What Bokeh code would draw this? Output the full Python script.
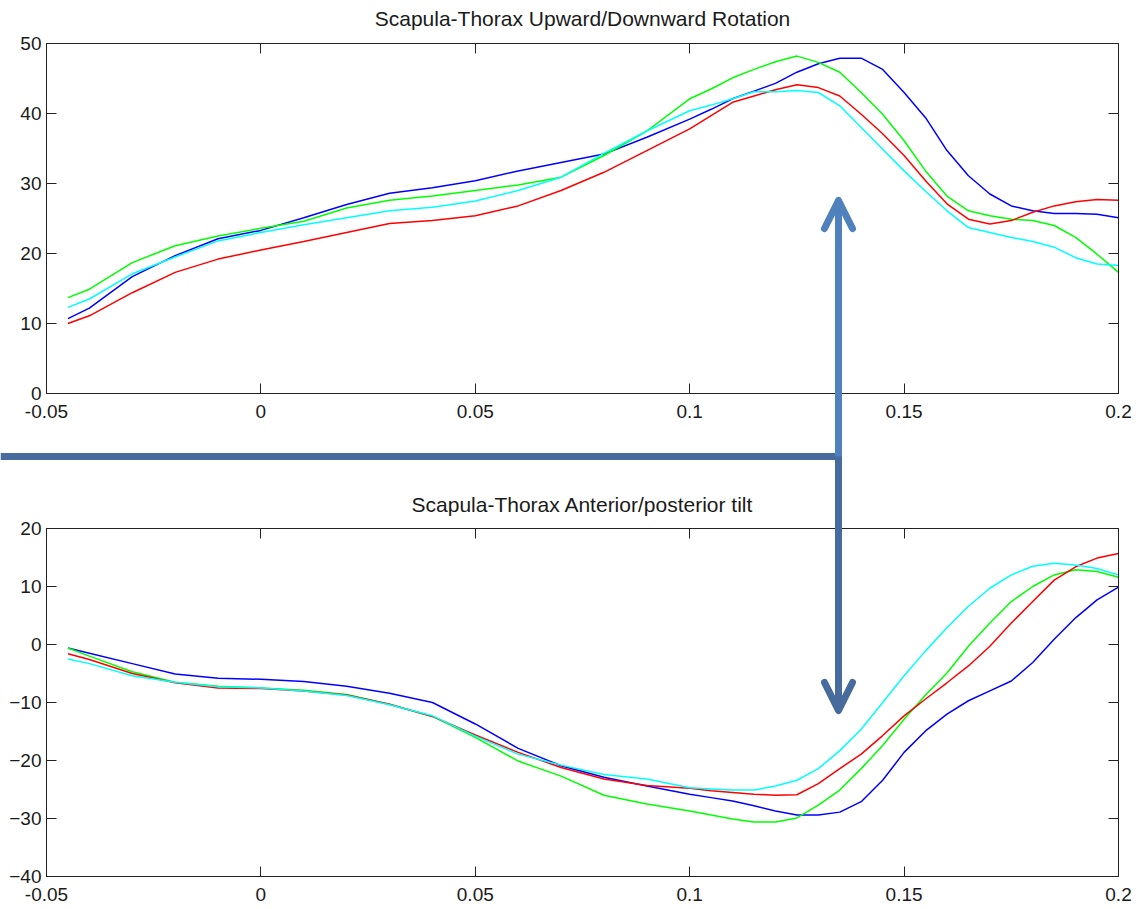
from bokeh.plotting import figure
from bokeh.layouts import column
from bokeh.models import (Range1d, FixedTicker, LinearAxis, CustomJSTickFormatter, Arrow,
                          OpenHead, GridBox)
from bokeh.embed import file_html
from bokeh.resources import INLINE

# ---------------- data ----------------
time = [-0.045, -0.04, -0.03, -0.02, -0.01, 0.0, 0.01, 0.02, 0.03, 0.04, 0.05, 0.06,
        0.07, 0.08, 0.09, 0.1, 0.105, 0.11, 0.115, 0.12, 0.125, 0.13, 0.135, 0.14,
        0.145, 0.15, 0.155, 0.16, 0.165, 0.17, 0.175, 0.18, 0.185, 0.19, 0.195, 0.2]

# Upward/Downward rotation
rot_blue = [10.7, 12.2, 16.7, 19.7, 22.1, 23.3, 25.1, 27.0, 28.6, 29.4, 30.4, 31.8,
            33.0, 34.2, 36.6, 39.2, 40.6, 42.1, 43.2, 44.3, 45.9, 47.1, 47.9, 47.9,
            46.3, 43.0, 39.4, 34.7, 31.1, 28.5, 26.8, 26.1, 25.7, 25.7, 25.6, 25.1]
rot_green = [13.7, 14.9, 18.7, 21.1, 22.5, 23.6, 24.6, 26.5, 27.6, 28.2, 29.0, 29.8,
             30.9, 34.0, 37.5, 42.1, 43.5, 45.1, 46.3, 47.4, 48.2, 47.3, 45.9, 43.0,
             39.9, 36.1, 31.8, 28.2, 26.1, 25.4, 24.9, 24.7, 24.0, 22.3, 19.9, 17.3]
rot_cyan = [12.3, 13.5, 17.1, 19.5, 21.8, 23.0, 24.1, 25.1, 26.1, 26.6, 27.5, 29.0,
            30.9, 34.3, 37.5, 40.4, 41.2, 42.1, 43.1, 43.1, 43.3, 43.0, 41.1, 38.0,
            34.9, 31.8, 28.9, 26.1, 23.7, 23.0, 22.3, 21.7, 20.9, 19.4, 18.5, 18.3]
rot_red = [10.0, 11.1, 14.4, 17.3, 19.2, 20.5, 21.7, 23.0, 24.3, 24.7, 25.4, 26.8,
           29.0, 31.6, 34.7, 37.8, 39.7, 41.6, 42.5, 43.4, 44.1, 43.7, 42.5, 39.9,
           37.1, 34.0, 30.4, 27.1, 24.9, 24.2, 24.7, 25.9, 26.8, 27.4, 27.7, 27.6]

# Anterior/posterior tilt
tilt_blue = [-0.6, -1.5, -3.3, -5.1, -5.8, -6.0, -6.4, -7.2, -8.4, -10.0, -13.7, -17.9,
             -20.9, -22.9, -24.4, -25.8, -26.4, -27.0, -27.8, -28.7, -29.4, -29.4, -28.9, -27.1,
             -23.4, -18.6, -14.9, -12.0, -9.7, -8.0, -6.3, -3.1, 0.9, 4.6, 7.7, 9.9]
tilt_green = [-0.6, -2.0, -4.7, -6.5, -7.2, -7.5, -7.9, -8.6, -10.3, -12.4, -16.0, -20.1,
              -22.7, -26.0, -27.5, -28.7, -29.4, -30.1, -30.6, -30.6, -29.9, -27.7, -25.1, -21.4,
              -17.4, -12.9, -8.7, -4.9, -0.3, 3.7, 7.4, 10.0, 12.0, 12.9, 12.6, 11.6]
tilt_red = [-1.6, -2.6, -5.0, -6.6, -7.5, -7.6, -8.0, -8.7, -10.3, -12.4, -15.6, -18.6,
            -21.2, -23.2, -24.3, -24.8, -25.2, -25.5, -25.8, -26.0, -25.9, -24.0, -21.4, -18.9,
            -15.7, -12.3, -9.4, -6.6, -3.7, -0.3, 3.7, 7.4, 11.1, 13.4, 14.9, 15.7]
tilt_cyan = [-2.5, -3.3, -5.4, -6.5, -7.3, -7.5, -8.0, -8.8, -10.4, -12.3, -15.8, -18.9,
             -20.8, -22.4, -23.2, -24.7, -24.9, -25.1, -25.1, -24.4, -23.4, -21.4, -18.3, -14.6,
             -10.0, -5.4, -1.1, 2.9, 6.6, 9.7, 12.0, 13.5, 14.0, 13.7, 13.1, 12.0]

x_ticks = [-0.05, 0, 0.05, 0.1, 0.15, 0.2]
x_tick_labels = ["-0.05", "0", "0.05", "0.1", "0.15", "0.2"]
rot_y_ticks = [0, 10, 20, 30, 40, 50]
tilt_y_ticks = [-40, -30, -20, -10, 0, 10, 20]

title_rot = "Scapula-Thorax Upward/Downward Rotation"
title_tilt = "Scapula-Thorax Anterior/posterior tilt"

series_colors = ["#0000FF", "#00FF00", "#FF0000", "#00FFFF"]

AX = "#222222"
TXT = "#1a1a1a"
FONT = "Liberation Sans"
UPPER_ARROW = "#4F81BD"
LOWER_ARROW = "#476B9D"

PAGE_W, TOP_H, BOT_H = 1145, 470, 439


def style_axis(ax, ticks, show_labels=True, overrides=None, standoff=5):
    ax.ticker = FixedTicker(ticks=ticks)
    ax.major_tick_in = 10
    ax.major_tick_out = 0
    ax.minor_tick_line_color = None
    ax.axis_line_color = AX
    ax.major_tick_line_color = AX
    ax.major_label_text_font = FONT
    ax.major_label_text_font_size = "19px"
    ax.major_label_text_color = TXT
    ax.major_label_standoff = standoff
    if overrides:
        ax.major_label_overrides = overrides
    if not show_labels:
        ax.formatter = CustomJSTickFormatter(code="return '';")


def make_fig(title, ylo, yhi, yticks, height, top, bottom, title_standoff):
    p = figure(width=PAGE_W, height=height, title=title,
               x_range=Range1d(-0.05, 0.2), y_range=Range1d(ylo, yhi),
               output_backend="svg", toolbar_location=None,
               min_border_left=46, min_border_right=27,
               min_border_top=top, min_border_bottom=bottom)
    p.title.align = "center"
    p.title.text_font = FONT
    p.title.text_font_size = "21px"
    p.title.text_font_style = "normal"
    p.title.text_color = TXT
    p.title.standoff = title_standoff
    p.grid.visible = False
    p.outline_line_color = AX
    p.outline_line_width = 1
    p.background_fill_color = "white"
    p.border_fill_color = "white"
    style_axis(p.xaxis[0], x_ticks, overrides=dict(zip(x_ticks, x_tick_labels)), standoff=11)
    style_axis(p.yaxis[0], yticks)
    top_ax = LinearAxis()
    style_axis(top_ax, x_ticks, show_labels=False, standoff=0)
    p.add_layout(top_ax, "above")
    # invisible spacer between the top ticks and the title
    spacer = LinearAxis(ticker=FixedTicker(ticks=x_ticks), major_tick_out=12, major_tick_in=0,
                        major_tick_line_color=None, minor_tick_line_color=None,
                        minor_tick_out=0, minor_tick_in=0,
                        axis_line_color=None, major_label_standoff=0,
                        formatter=CustomJSTickFormatter(code="return '';"))
    p.add_layout(spacer, "above")
    right_ax = LinearAxis()
    style_axis(right_ax, yticks, show_labels=False, standoff=0)
    p.add_layout(right_ax, "right")
    return p


# ---------------- top figure ----------------
p1 = make_fig(title_rot, 0, 50, rot_y_ticks, TOP_H, 43, 77, 4)
for ys, c in zip([rot_blue, rot_green, rot_red, rot_cyan], series_colors):
    p1.line(time, ys, line_color=c, line_width=1.5)

# ---------------- bottom figure ----------------
p2 = make_fig(title_tilt, -40, 20, tilt_y_ticks, BOT_H, 58, 33, 2)
for ys, c in zip([tilt_blue, tilt_green, tilt_red, tilt_cyan], series_colors):
    p2.line(time, ys, line_color=c, line_width=1.5)

# ---------------- transparent overlay for the callout arrows (page pixels, y down) ----------------
ov = figure(width=PAGE_W, height=TOP_H + BOT_H,
            x_range=Range1d(0, PAGE_W), y_range=Range1d(TOP_H + BOT_H, 0),
            x_axis_type=None, y_axis_type=None, output_backend="svg",
            toolbar_location=None, min_border=0,
            min_border_left=0, min_border_right=0, min_border_top=0, min_border_bottom=0)
ov.background_fill_alpha = 0
ov.border_fill_alpha = 0
ov.outline_line_color = None

ARROW_X = 838        # x of the vertical arrow
ELBOW_Y = 456        # y of the horizontal connector
UP_TIP, DOWN_TIP = 200, 710

ov.add_layout(Arrow(x_start=0, y_start=ELBOW_Y, x_end=ARROW_X + 3.5, y_end=ELBOW_Y,
                    end=None, line_color=LOWER_ARROW, line_width=7))
ov.add_layout(Arrow(x_start=ARROW_X, y_start=ELBOW_Y - 3.5, x_end=ARROW_X, y_end=DOWN_TIP,
                    line_color=LOWER_ARROW, line_width=7,
                    end=OpenHead(size=28, line_width=7, line_color=LOWER_ARROW,
                                 line_cap="round", line_join="round")))
ov.add_layout(Arrow(x_start=ARROW_X, y_start=ELBOW_Y, x_end=ARROW_X, y_end=UP_TIP,
                    line_color=UPPER_ARROW, line_width=7,
                    end=OpenHead(size=28, line_width=7, line_color=UPPER_ARROW,
                                 line_cap="round", line_join="round")))

plots = column(p1, p2, spacing=0)
layout = GridBox(children=[(plots, 0, 0), (ov, 0, 0)], spacing=0)
open("out.html", "w").write(file_html(layout, INLINE, title="Scapula-Thorax"))
